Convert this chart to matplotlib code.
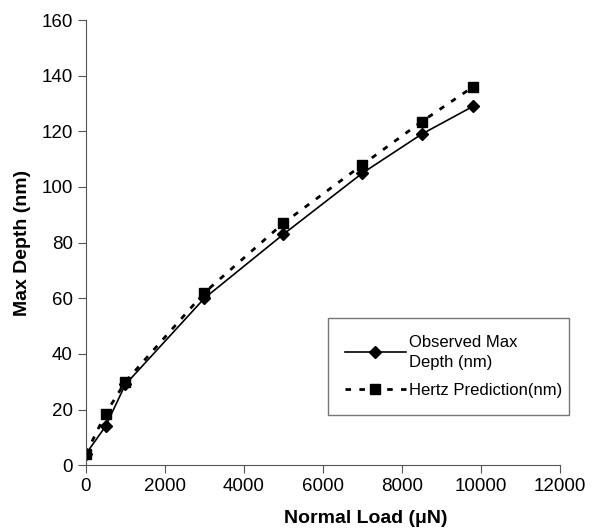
import matplotlib.pyplot as plt

plt.rcParams['font.family'] = ['Liberation Sans', 'DejaVu Sans']

load = [0, 500, 1000, 3000, 5000, 7000, 8500, 9800]
observed = [4, 14, 29, 60, 83, 105, 119, 129]
hertz = [4, 18.5, 30, 62, 87, 108, 123.5, 136]

fig = plt.figure(figsize=(5.92, 5.28), dpi=100)
ax = fig.add_axes([0.145, 0.119, 0.801, 0.843])

ax.plot(load, observed, color='black', lw=1.2, marker='D', ms=6.5,
        label='Observed Max\nDepth (nm)')
ax.plot(load, hertz, color='black', lw=2, ls=(0, (2, 3)), marker='s', ms=7,
        label='Hertz Prediction(nm)')

ax.set_xlim(0, 12000)
ax.set_ylim(0, 160)
ax.set_xticks(range(0, 12001, 2000))
ax.set_yticks(range(0, 161, 20))
for s in ['top', 'right']:
    ax.spines[s].set_visible(False)
for s in ['left', 'bottom']:
    ax.spines[s].set_color('#555555')
ax.tick_params(direction='out', length=6, color='#555555', labelsize=13.5)

ax.set_xlabel('Normal Load (μN)', fontsize=14, fontweight='bold')
ax.set_ylabel('Max Depth (nm)', fontsize=14, fontweight='bold')
ax.xaxis.set_label_coords(0.59, -0.1)
ax.yaxis.set_label_coords(-0.115, 0.5)

leg = fig.legend(loc='upper left', bbox_to_anchor=(0.554, 0.205, 0.407, 0.193),
                 mode='expand', fontsize=12, borderaxespad=0,
                 frameon=True, fancybox=False, edgecolor='#555555',
                 handlelength=3.7, borderpad=1.0, labelspacing=0.8,
                 handletextpad=0.15)
leg.get_frame().set_linewidth(1)
for t in leg.get_texts():
    t.set_linespacing(1.45)

fig.savefig('out.png', dpi=100)
